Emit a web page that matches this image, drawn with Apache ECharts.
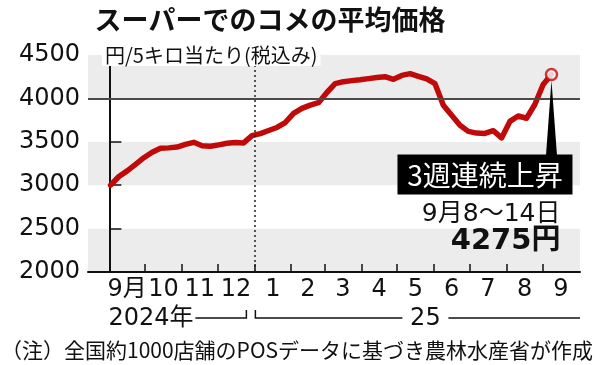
<!DOCTYPE html>
<html><head><meta charset="utf-8">
<script src="https://cdn.jsdelivr.net/npm/echarts@6/dist/echarts.min.js"></script>
<style>html,body{margin:0;padding:0;background:#fff}#c{width:600px;height:365px}</style>
</head><body><div id="c"></div>
<script>
// ---- data ----
const titleText = 'スーパーでのコメの平均価格';
const unitText = '円/5キロ当たり(税込み)';
const noteText = '（注）全国約1000店舗のPOSデータに基づき農林水産省が作成';
const firstWeek = '2024-09-02';           // weekly data, Monday start
const prices = [
  3000, 3100, 3165, 3240, 3317, 3379, 3425, 3430, 3440, 3470,
  3494, 3455, 3448, 3465, 3483, 3492, 3487, 3571, 3594, 3630,
  3665, 3722, 3828, 3885, 3922, 3951, 4068, 4170, 4193, 4205,
  4215, 4228, 4240, 4250, 4220, 4265, 4285, 4255, 4225, 4170,
  3920, 3805, 3690, 3620, 3600, 3597, 3628, 3545, 3735, 3797,
  3771, 3930, 4160, 4275
];
const monthBounds = ['2024-09-01','2024-10-01','2024-11-01','2024-12-01','2025-01-01','2025-02-01',
  '2025-03-01','2025-04-01','2025-05-01','2025-06-01','2025-07-01','2025-08-01','2025-09-01','2025-10-01'];
const monthLabels = ['9月','10','11','12','1','2','3','4','5','6','7','8','9'];
const yearLabels = ['2024年', '25'];
const yearSplit = '2025-01-01';
const yMin = 2000, yMax = 4500, yStep = 500;
const refLine = 4000;
const calloutText = '3週連続上昇';
const lastWeekText = '9月8〜14日';
const lastPriceText = '4275円';

// ---- helpers ----
const origin = Date.UTC(2024, 8, 1);
function day(s) { const p = s.split('-').map(Number); return (Date.UTC(p[0], p[1]-1, p[2]) - origin) / 86400000; }
const d0 = day(firstWeek);
const lineData = prices.map((v, i) => [d0 + 7 * i, v]);
const tickDays = monthBounds.slice(0, 13).map(day);
const labelDays = monthLabels.map((_, i) => (day(monthBounds[i]) + day(monthBounds[i+1])) / 2);

const RED = '#c00a0a';
const NUMFONT = 'DejaVu Sans, Noto Sans CJK JP, sans-serif';
const JPFONT = 'Noto Sans CJK JP, sans-serif';

const chart = echarts.init(document.getElementById('c'), null, {renderer: 'canvas'});
chart.setOption({
  animation: false,
  grid: {left: 88, right: 20, top: 55, bottom: 93, containLabel: false},
  xAxis: {
    type: 'value', min: -18, max: 396,
    axisLine: {show: true, lineStyle: {color: '#111', width: 2}},
    axisTick: {show: true, inside: true, length: 8, customValues: tickDays, lineStyle: {color: '#111', width: 1.5}},
    axisLabel: {
      show: true, customValues: labelDays, margin: 6, color: '#111', fontSize: 24, fontFamily: NUMFONT,
      formatter: function (v) {
        let best = 0, bd = 1e9;
        labelDays.forEach((d, i) => { if (Math.abs(d - v) < bd) { bd = Math.abs(d - v); best = i; } });
        return monthLabels[best];
      }
    },
    splitLine: {show: false}
  },
  yAxis: {
    type: 'value', min: yMin, max: yMax, interval: yStep,
    axisLine: {show: true, lineStyle: {color: '#111', width: 2}},
    axisTick: {show: true, inside: true, length: 12, lineStyle: {color: '#111', width: 1.5}},
    axisLabel: {color: '#111', fontSize: 24, fontFamily: NUMFONT, margin: 8, formatter: v => String(v)},
    splitLine: {show: false},
    splitArea: {show: true, areaStyle: {color: ['#ececec', '#ffffff']}}
  },
  series: [
    {
      type: 'line', data: [], z: 1, silent: true,
      markLine: {
        silent: true, symbol: 'none', label: {show: false},
        data: [
          {yAxis: refLine, lineStyle: {color: '#4a4a4a', width: 2, type: 'solid'}},
          {xAxis: day(yearSplit), lineStyle: {color: '#222', width: 1.5, type: [2, 3]}}
        ]
      }
    },
    {
      type: 'line', data: lineData, z: 3, showSymbol: false, smooth: false,
      lineStyle: {color: RED, width: 5.5, join: 'round', cap: 'round'}
    },
    {
      type: 'scatter', z: 5, data: [lineData[lineData.length - 1]],
      symbol: 'circle', symbolSize: 11,
      itemStyle: {color: '#fff', borderColor: RED, borderWidth: 2.5}
    }
  ]
});

// ---- annotations anchored to axes ----
const last = lineData[lineData.length - 1];
const p = chart.convertToPixel({gridIndex: 0}, last);
const xs = chart.convertToPixel({gridIndex: 0}, [0, yMin]);
const xj = chart.convertToPixel({gridIndex: 0}, [day(yearSplit), yMin]);
const xe = chart.convertToPixel({gridIndex: 0}, [396, yMin]);
const yRow = xs[1] + 46;
const boxTop = p[1] + 80, boxH = 40, boxL = p[0] - 154, boxR = p[0] + 21;

chart.setOption({
  graphic: [
    {type: 'text', x: 270, y: 20, z: 10,
     style: {text: titleText, font: 'bold 27px ' + JPFONT, fill: '#111', align: 'center', verticalAlign: 'middle'}},
    {type: 'text', x: 102, y: 55, z: 10,
     style: {text: unitText, font: '20px ' + JPFONT, fill: '#111', align: 'left', verticalAlign: 'middle',
             backgroundColor: '#fff', padding: [1, 3, 1, 3]}},
    {type: 'polygon', z: 8, shape: {points: [[p[0], p[1] + 6], [p[0] - 5.5, boxTop + 1], [p[0] + 5.5, boxTop + 1]]},
     style: {fill: '#000'}},
    {type: 'rect', z: 8, shape: {x: boxL, y: boxTop, width: boxR - boxL, height: boxH}, style: {fill: '#000'}},
    {type: 'text', z: 9, x: (boxL + boxR) / 2, y: boxTop + boxH / 2 + 1,
     style: {text: calloutText, font: '28px ' + JPFONT, fill: '#fff', align: 'center', verticalAlign: 'middle'}},
    {type: 'text', z: 9, x: p[0] + 9, y: p[1] + 140,
     style: {text: lastWeekText, font: '25px ' + NUMFONT, fill: '#111', align: 'right', verticalAlign: 'middle'}},
    {type: 'text', z: 9, x: p[0] + 9, y: p[1] + 167,
     style: {text: lastPriceText, font: 'bold 29px ' + NUMFONT, fill: '#111', align: 'right', verticalAlign: 'middle'}},
    // year row
    {type: 'text', z: 9, x: xs[0] - 1, y: yRow + 1,
     style: {text: yearLabels[0], font: '24px ' + NUMFONT, fill: '#111', align: 'left', verticalAlign: 'middle'}},
    {type: 'polyline', z: 9, shape: {points: [[xs[0] + 86, yRow], [xj[0] - 8, yRow], [xj[0] - 8, yRow - 8]]},
     style: {stroke: '#111', lineWidth: 1.5, fill: null}},
    {type: 'polyline', z: 9, shape: {points: [[xj[0] + 1, yRow - 8], [xj[0] + 1, yRow], [xj[0] + 148, yRow]]},
     style: {stroke: '#111', lineWidth: 1.5, fill: null}},
    {type: 'text', z: 9, x: xj[0] + 171, y: yRow + 1,
     style: {text: yearLabels[1], font: '24px ' + NUMFONT, fill: '#111', align: 'center', verticalAlign: 'middle'}},
    {type: 'line', z: 9, shape: {x1: xj[0] + 194, y1: yRow, x2: xe[0], y2: yRow},
     style: {stroke: '#111', lineWidth: 1.5}},
    {type: 'text', z: 9, x: 1, y: 350,
     style: {text: noteText, font: '21px ' + JPFONT, fill: '#111', align: 'left', verticalAlign: 'middle'}}
  ]
});
</script>
</body></html>
